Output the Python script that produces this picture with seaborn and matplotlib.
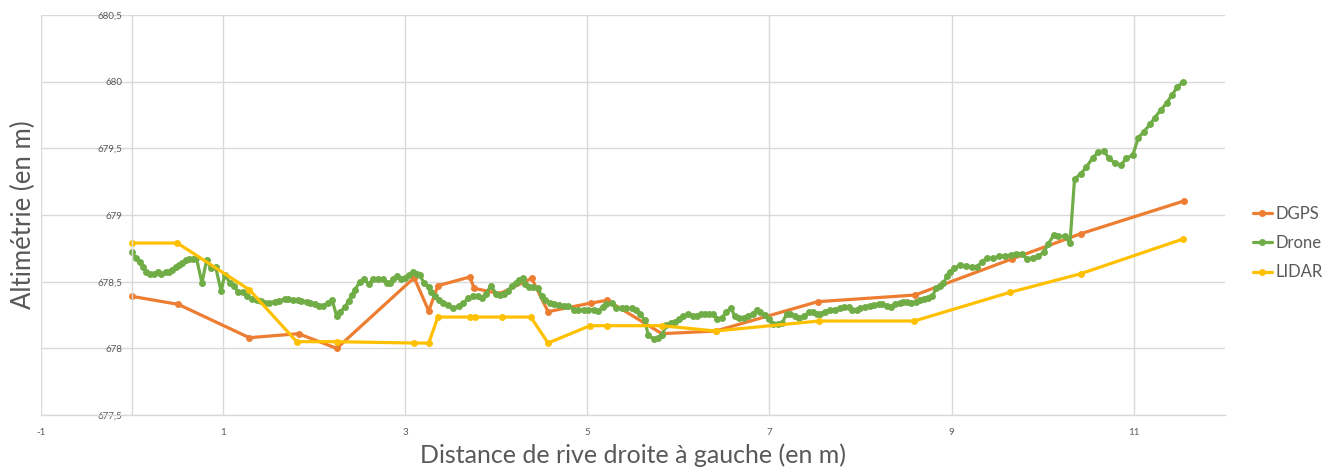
import numpy as np
import pandas as pd
import matplotlib
matplotlib.use("Agg")
import matplotlib.pyplot as plt
import seaborn as sns

# ---------------- data ----------------
dgps_x = [0.00, 0.51, 1.29, 1.83, 2.25, 3.10, 3.26, 3.36, 3.71, 3.76, 4.04, 4.39,
          4.57, 5.04, 5.22, 5.82, 6.41, 7.53, 8.60, 9.66, 10.42, 11.55]
dgps_y = [678.39, 678.33, 678.08, 678.11, 678.00, 678.53, 678.28, 678.47, 678.535, 678.45,
          678.41, 678.525, 678.275, 678.34, 678.36, 678.11, 678.13, 678.35, 678.40, 678.67,
          678.86, 679.105]

lidar_x = [0.00, 0.50, 1.29, 1.81, 2.25, 3.10, 3.26, 3.36, 3.71, 3.77, 4.06, 4.38,
           4.57, 5.03, 5.22, 5.82, 6.41, 7.54, 8.59, 9.64, 10.42, 11.54]
lidar_y = [678.79, 678.79, 678.44, 678.05, 678.05, 678.04, 678.04, 678.235, 678.235, 678.235,
           678.235, 678.235, 678.04, 678.17, 678.17, 678.17, 678.13, 678.205, 678.205, 678.42,
           678.56, 678.82]

drone_x = [0.00, 0.05, 0.09, 0.12, 0.16, 0.20, 0.24, 0.29, 0.32, 0.37,
           0.41, 0.44, 0.48, 0.52, 0.55, 0.59, 0.63, 0.67, 0.71, 0.77,
           0.82, 0.87, 0.92, 0.98, 1.02, 1.08, 1.12, 1.17, 1.22, 1.27,
           1.32, 1.37, 1.42, 1.46, 1.51, 1.57, 1.62, 1.68, 1.72, 1.77,
           1.82, 1.86, 1.92, 1.96, 2.01, 2.05, 2.10, 2.15, 2.20, 2.25,
           2.29, 2.34, 2.38, 2.42, 2.45, 2.50, 2.55, 2.60, 2.65, 2.70,
           2.76, 2.80, 2.84, 2.87, 2.91, 2.96, 3.00, 3.04, 3.09, 3.13,
           3.16, 3.21, 3.26, 3.29, 3.33, 3.37, 3.42, 3.47, 3.53, 3.59,
           3.64, 3.69, 3.75, 3.80, 3.84, 3.89, 3.94, 4.00, 4.04, 4.09,
           4.13, 4.17, 4.22, 4.25, 4.29, 4.32, 4.36, 4.41, 4.46, 4.50,
           4.54, 4.59, 4.64, 4.69, 4.74, 4.79, 4.86, 4.90, 4.96, 5.01,
           5.07, 5.12, 5.17, 5.21, 5.27, 5.32, 5.38, 5.43, 5.49, 5.53,
           5.58, 5.63, 5.67, 5.73, 5.78, 5.82, 5.87, 5.92, 5.96, 6.01,
           6.05, 6.11, 6.16, 6.20, 6.25, 6.29, 6.34, 6.38, 6.43, 6.48,
           6.52, 6.58, 6.62, 6.67, 6.72, 6.77, 6.82, 6.86, 6.90, 6.95,
           7.00, 7.04, 7.09, 7.14, 7.19, 7.23, 7.28, 7.33, 7.38, 7.43,
           7.48, 7.52, 7.56, 7.61, 7.67, 7.72, 7.77, 7.82, 7.87, 7.91,
           7.96, 8.00, 8.05, 8.10, 8.15, 8.20, 8.24, 8.29, 8.33, 8.38,
           8.43, 8.47, 8.51, 8.56, 8.61, 8.65, 8.70, 8.74, 8.79, 8.83,
           8.87, 8.91, 8.95, 8.98, 9.03, 9.09, 9.16, 9.22, 9.28, 9.33,
           9.39, 9.46, 9.52, 9.59, 9.65, 9.71, 9.77, 9.83, 9.89, 9.95,
           10.01, 10.06, 10.12, 10.17, 10.24, 10.30, 10.35, 10.42, 10.48, 10.55,
           10.61, 10.67, 10.73, 10.79, 10.86, 10.92, 10.99, 11.05, 11.11, 11.18,
           11.23, 11.30, 11.36, 11.42, 11.48, 11.54]
drone_y = [678.72, 678.675, 678.645, 678.61, 678.575, 678.555, 678.555, 678.57, 678.56, 678.57,
           678.575, 678.59, 678.61, 678.625, 678.64, 678.66, 678.67, 678.67, 678.675, 678.49,
           678.66, 678.60, 678.61, 678.43, 678.55, 678.49, 678.47, 678.42, 678.425, 678.39,
           678.37, 678.36, 678.355, 678.34, 678.34, 678.35, 678.357, 678.37, 678.37, 678.36,
           678.36, 678.355, 678.35, 678.34, 678.33, 678.32, 678.32, 678.34, 678.36, 678.24,
           678.275, 678.31, 678.355, 678.40, 678.44, 678.495, 678.52, 678.48, 678.52, 678.52,
           678.52, 678.49, 678.49, 678.52, 678.54, 678.52, 678.53, 678.55, 678.57, 678.56,
           678.55, 678.49, 678.46, 678.425, 678.39, 678.36, 678.34, 678.325, 678.30, 678.32,
           678.34, 678.375, 678.39, 678.39, 678.375, 678.41, 678.47, 678.41, 678.40, 678.41,
           678.43, 678.47, 678.49, 678.51, 678.525, 678.48, 678.46, 678.46, 678.45, 678.39,
           678.36, 678.34, 678.33, 678.325, 678.32, 678.32, 678.29, 678.29, 678.29, 678.29,
           678.29, 678.28, 678.31, 678.33, 678.34, 678.30, 678.30, 678.30, 678.30, 678.29,
           678.26, 678.21, 678.10, 678.07, 678.075, 678.10, 678.175, 678.19, 678.20, 678.22,
           678.24, 678.255, 678.24, 678.24, 678.26, 678.26, 678.26, 678.26, 678.22, 678.225,
           678.275, 678.30, 678.24, 678.23, 678.23, 678.24, 678.26, 678.29, 678.275, 678.25,
           678.22, 678.18, 678.18, 678.19, 678.26, 678.26, 678.24, 678.23, 678.24, 678.27,
           678.27, 678.26, 678.26, 678.275, 678.29, 678.29, 678.30, 678.31, 678.31, 678.29,
           678.29, 678.30, 678.31, 678.32, 678.325, 678.33, 678.33, 678.32, 678.31, 678.33,
           678.34, 678.345, 678.35, 678.34, 678.345, 678.36, 678.37, 678.38, 678.39, 678.45,
           678.47, 678.49, 678.54, 678.575, 678.60, 678.625, 678.62, 678.61, 678.61, 678.65,
           678.675, 678.675, 678.69, 678.69, 678.70, 678.71, 678.71, 678.67, 678.68, 678.69,
           678.72, 678.78, 678.85, 678.84, 678.84, 678.79, 679.27, 679.31, 679.36, 679.43,
           679.47, 679.48, 679.425, 679.39, 679.375, 679.425, 679.45, 679.58, 679.625, 679.68,
           679.73, 679.79, 679.84, 679.90, 679.96, 680.00]

series_names = ["DGPS", "Drone", "LIDAR"]
series_colors = ["#ED7D31", "#70AD47", "#FFC000"]

xtick_values = [-1, 1, 3, 5, 7, 9, 11]
xtick_labels = ["-1", "1", "3", "5", "7", "9", "11"]
ytick_values = [677.5, 678.0, 678.5, 679.0, 679.5, 680.0, 680.5]
ytick_labels = ["677,5", "678", "678,5", "679", "679,5", "680", "680,5"]

x_title = "Distance de rive droite à gauche (en m)"
y_title = "Altimétrie (en m)"

# ---------------- plot ----------------
sns.set_style("white")
plt.rcParams["font.family"] = ["Lato", "DejaVu Sans"]

fig = plt.figure(figsize=(13.27, 4.68), dpi=100)
ax = fig.add_axes([0.0307, 0.1132, 0.8923, 0.8547])

frames = [
    pd.DataFrame({"x": dgps_x, "y": dgps_y}),
    pd.DataFrame({"x": drone_x, "y": drone_y}),
    pd.DataFrame({"x": lidar_x, "y": lidar_y}),
]
for df, name, col in zip(frames, series_names, series_colors):
    sns.lineplot(data=df, x="x", y="y", ax=ax, color=col, linewidth=2.3,
                 marker="o", markersize=5.0, markeredgewidth=0,
                 estimator=None, sort=False, label=name)

ax.set_xlim(-1, 12)
ax.set_ylim(677.5, 680.5)
ax.set_xticks(xtick_values)
ax.set_xticklabels(xtick_labels)
ax.set_yticks(ytick_values)
ax.set_yticklabels(ytick_labels)

grid_col = "#D9D9D9"
ax.grid(True, color=grid_col, linewidth=1.0)
ax.set_axisbelow(True)
for s in ["top", "right"]:
    ax.spines[s].set_visible(False)
ax.spines["left"].set_position(("data", 0))
ax.spines["left"].set_color(grid_col)
ax.spines["bottom"].set_color(grid_col)
ax.spines["left"].set_linewidth(1.0)
ax.spines["bottom"].set_linewidth(1.0)

ax.tick_params(axis="both", length=0, labelsize=7, labelcolor="#595959")
ax.tick_params(axis="y", pad=7)
ax.tick_params(axis="x", pad=9)

ax.set_xlabel(x_title, fontsize=18, color="#595959", labelpad=5)
ax.set_ylabel(y_title, fontsize=18.5, color="#595959")
ax.yaxis.set_label_coords(-0.004, 0.5)

leg = ax.legend(loc="center left", bbox_to_anchor=(1.018, 0.43), frameon=False,
                fontsize=12, handlelength=1.15, handletextpad=0.2, labelspacing=0.8,
                borderaxespad=0)
for t in leg.get_texts():
    t.set_color("#595959")

fig.savefig("out.png", dpi=100)
